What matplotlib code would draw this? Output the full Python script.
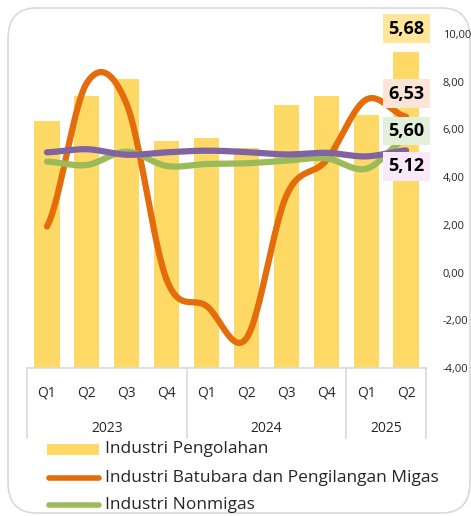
import matplotlib.pyplot as plt
import numpy as np
from matplotlib.patches import FancyBboxPatch, Rectangle
from matplotlib.lines import Line2D

plt.rcParams['font.family'] = ['Open Sans', 'DejaVu Sans']

# data (growth, % yoy)
quarters = ["Q1", "Q2", "Q3", "Q4", "Q1", "Q2", "Q3", "Q4", "Q1", "Q2"]
years = ["2023", "2024", "2025"]
year_sizes = [4, 4, 2]
pengolahan = [4.43, 4.88, 5.20, 4.07, 4.13, 3.95, 4.72, 4.89, 4.55, 5.68]
batubara = [1.93, 7.95, 7.05, -0.30, -1.40, -2.75, 3.22, 4.70, 7.25, 6.53]
nonmigas = [4.65, 4.51, 5.07, 4.47, 4.55, 4.58, 4.69, 4.79, 4.35, 5.60]
pdb = [5.04, 5.17, 4.94, 5.04, 5.11, 5.05, 4.95, 5.02, 4.87, 5.12]

c_bar = "#FFD966"
c_orange = "#E46C0A"
c_green = "#9BBB59"
c_purple = "#8064A2"


def smooth(y, n=30):
    # catmull-rom like Excel's smoothed line
    y = np.asarray(y, float)
    x = np.arange(len(y))
    p = np.concatenate([[y[0]], y, [y[-1]]])
    xs, ys = [], []
    for i in range(len(y) - 1):
        p0, p1, p2, p3 = p[i], p[i + 1], p[i + 2], p[i + 3]
        t = np.linspace(0, 1, n)
        yy = 0.5 * ((2 * p1) + (-p0 + p2) * t + (2 * p0 - 5 * p1 + 4 * p2 - p3) * t ** 2
                    + (-p0 + 3 * p1 - 3 * p2 + p3) * t ** 3)
        xs.append(x[i] + t)
        ys.append(yy)
    return np.concatenate(xs), np.concatenate(ys)


fig = plt.figure(figsize=(4.71, 5.16), dpi=100)
W, H = 471, 516

# rounded frame
frame = FancyBboxPatch((8 / W, 3 / H), (470 - 8) / W, (508 - 3) / H,
                       boxstyle="round,pad=0,rounding_size=0.06",
                       transform=fig.transFigure, fc="white", ec="#D9D9D9", lw=1.2, zorder=-5)
fig.patches.append(frame)

ax = fig.add_axes([27 / W, (H - 368) / H, 399 / W, 334 / H])
ax2 = ax.twinx()
x = np.arange(len(quarters))

ax2.bar(x, pengolahan, width=0.63, color=c_bar, zorder=1)
ax2.set_ylim(0, 6)
ax2.set_yticks([])

for vals, col in [(batubara, c_orange), (nonmigas, c_green), (pdb, c_purple)]:
    sx, sy = smooth(vals)
    ax.plot(sx, sy, color=col, lw=4.5, solid_capstyle='round', zorder=3)

ax.set_zorder(ax2.get_zorder() + 1)
ax.patch.set_visible(False)
ax.set_xlim(-0.5, len(quarters) - 0.5)
ax.set_ylim(-4, 10)
ax.yaxis.tick_right()
ax.set_yticks(np.arange(-4, 10.1, 2))
ax.set_yticklabels([f"{v:.2f}".replace(".", ",") for v in np.arange(-4, 10.1, 2)])
ax.tick_params(axis='y', length=0, pad=12, labelsize=8, labelcolor="#262626")
ax.set_xticks([])
for a in (ax, ax2):
    for s in a.spines.values():
        s.set_visible(False)

# multi-level category axis
grey = "#D9D9D9"
ax.plot([-0.5, 9.5], [-4, -4], color=grey, lw=1.2, clip_on=False, zorder=5)
trans = ax.get_xaxis_transform()
edges = np.concatenate([[0], np.cumsum(year_sizes)]) - 0.5
for e in edges:
    ax.add_line(Line2D([e, e], [0, -70 / 334], transform=trans, color=grey, lw=1.2, clip_on=False))
for i, q in enumerate(quarters):
    ax.text(i, -25 / 334, q, transform=trans, ha='center', va='center', fontsize=10, color="#262626")
for i, yr in enumerate(years):
    mid = (edges[i] + edges[i + 1]) / 2
    ax.text(mid, -60 / 334, yr, transform=trans, ha='center', va='center', fontsize=10, color="#262626")

# value labels
last = len(quarters) - 1
labels = [
    (pengolahan[-1], ax2, 23, "#FFE699"),
    (batubara[-1], ax, 23, "#FBE5D6"),
    (nonmigas[-1], ax, 8, "#E2EFDA"),
    (pdb[-1], ax, -16, "#FCE8FB"),
]
for v, a, off, fc in labels:
    a.annotate(f"{v:.2f}".replace(".", ","), (last, v), xytext=(0, off), textcoords='offset pixels',
               ha='center', va='center', fontsize=13, fontweight='bold', color="black", zorder=10,
               bbox=dict(boxstyle="square,pad=0.3", fc=fc, ec="none"))

# legend
fig.patches.append(Rectangle((47 / W, (H - 455) / H), 52 / W, 11 / H, transform=fig.transFigure,
                             fc=c_bar, ec="none"))
fig.text(105 / W, (H - 449) / H, "Industri Pengolahan", fontsize=12.5, va='center', color="#262626")
for yy, col, txt in [(478, c_orange, "Industri Batubara dan Pengilangan Migas"),
                     (505, c_green, "Industri Nonmigas")]:
    fig.add_artist(Line2D([49 / W, 99 / W], [(H - yy) / H] * 2, transform=fig.transFigure,
                          color=col, lw=4, solid_capstyle='round'))
    fig.text(105 / W, (H - yy) / H, txt, fontsize=12.5, va='center', color="#262626")

fig.savefig("out.png", dpi=100)
